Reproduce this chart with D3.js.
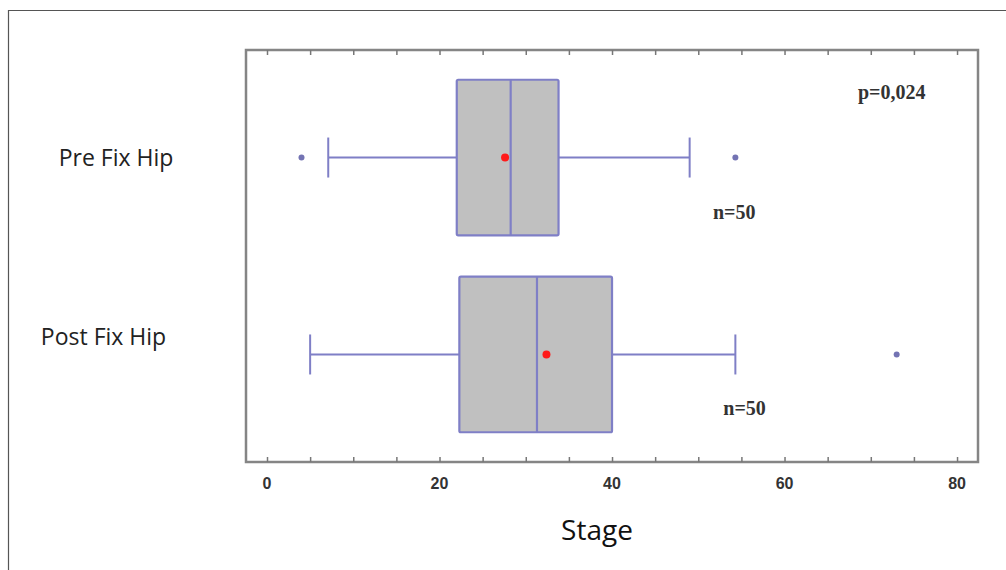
<!DOCTYPE html>
<html>
<head>
<meta charset="utf-8">
<script src="https://cdn.jsdelivr.net/npm/d3@7"></script>
<style>
  body { margin: 0; background: #fff; }
  svg { display: block; }
</style>
</head>
<body>
<div id="chart"></div>
<script>
// box plot values
const groups = ['Pre Fix Hip', 'Post Fix Hip'];
const whiskerLow = [7.1, 5.0];
const q1 = [22.0, 22.3];
const medians = [28.25, 31.3];
const q3 = [33.8, 40.0];
const whiskerHigh = [49.0, 54.3];
const means = [27.6, 32.4];
const outliers = [[4.0, 54.3], [73.0]];
const nLabels = ['n=50', 'n=50'];
const nLabelX = [51.7, 52.9];
const xTickLabels = [0, 20, 40, 60, 80];
const xMinorTicks = d3.range(0, 81, 5);
const pValue = 'p=0,024';

const W = 1006, H = 570;
const plot = { left: 246, right: 978, top: 50, bottom: 462 };
const boxColor = '#7f7fc6';

const svg = d3.select('#chart').append('svg')
  .attr('width', W).attr('height', H);

// outer page frame
svg.append('path')
  .attr('d', `M8.5,${H} V10.5 H${W}`)
  .attr('fill', 'none').attr('stroke', '#555').attr('stroke-width', 1.2);

const x = d3.scaleLinear()
  .domain([-2.435, 82.43])
  .range([plot.left, plot.right]);

const y = d3.scalePoint()
  .domain(groups)
  .range([plot.top, plot.bottom])
  .padding(0.546);

const boxH = y.step() * 0.79;
const capH = 40;

// plot frame
svg.append('rect')
  .attr('x', plot.left).attr('y', plot.top)
  .attr('width', plot.right - plot.left).attr('height', plot.bottom - plot.top)
  .attr('fill', 'none').attr('stroke', '#858585').attr('stroke-width', 2.5);

// ticks pointing inward, bottom and top
svg.append('g')
  .attr('transform', `translate(0,${plot.bottom})`)
  .call(d3.axisTop(x).tickValues(xMinorTicks).tickSize(5).tickFormat(''))
  .call(g => g.select('.domain').remove())
  .call(g => g.selectAll('line').attr('stroke', '#777').attr('stroke-width', 1.5));

svg.append('g')
  .attr('transform', `translate(0,${plot.top})`)
  .call(d3.axisBottom(x).tickValues(xMinorTicks).tickSize(5).tickFormat(''))
  .call(g => g.select('.domain').remove())
  .call(g => g.selectAll('line').attr('stroke', '#777').attr('stroke-width', 1.5));

svg.append('g')
  .selectAll('text')
  .data(xTickLabels)
  .enter().append('text')
  .attr('x', d => x(d))
  .attr('y', 489)
  .attr('text-anchor', 'middle')
  .style('font-family', 'Liberation Sans, Arial, sans-serif')
  .style('font-weight', 'bold')
  .style('font-size', '16px')
  .style('fill', '#333')
  .text(d => d);

svg.append('text')
  .attr('x', 597).attr('y', 540)
  .attr('text-anchor', 'middle')
  .style('font-family', 'Open Sans, sans-serif')
  .style('font-size', '28px')
  .style('fill', '#111')
  .text('Stage');

// category labels (they sit a little off the box centres in the original)
const labelPos = [{ cx: 116, dy: 8 }, { cx: 103.5, dy: -9 }];
svg.append('g')
  .selectAll('text')
  .data(groups)
  .enter().append('text')
  .attr('x', (d, i) => labelPos[i].cx)
  .attr('y', (d, i) => y(d) + labelPos[i].dy)
  .attr('text-anchor', 'middle')
  .style('font-family', 'Open Sans, sans-serif')
  .style('font-size', '23px')
  .style('fill', '#222')
  .text(d => d);

const boxes = svg.append('g')
  .selectAll('g')
  .data(groups)
  .enter().append('g');

// whiskers
boxes.append('line')
  .attr('x1', (d, i) => x(whiskerLow[i])).attr('x2', (d, i) => x(q1[i]))
  .attr('y1', d => y(d)).attr('y2', d => y(d))
  .attr('stroke', boxColor).attr('stroke-width', 2);
boxes.append('line')
  .attr('x1', (d, i) => x(q3[i])).attr('x2', (d, i) => x(whiskerHigh[i]))
  .attr('y1', d => y(d)).attr('y2', d => y(d))
  .attr('stroke', boxColor).attr('stroke-width', 2);
boxes.selectAll('.cap')
  .data((d, i) => [whiskerLow[i], whiskerHigh[i]].map(v => ({ g: d, v })))
  .enter().append('line')
  .attr('class', 'cap')
  .attr('x1', d => x(d.v)).attr('x2', d => x(d.v))
  .attr('y1', d => y(d.g) - capH / 2).attr('y2', d => y(d.g) + capH / 2)
  .attr('stroke', boxColor).attr('stroke-width', 2);

// box
boxes.append('rect')
  .attr('x', (d, i) => x(q1[i]))
  .attr('y', d => y(d) - boxH / 2)
  .attr('width', (d, i) => x(q3[i]) - x(q1[i]))
  .attr('height', boxH)
  .attr('rx', 1.5)
  .attr('fill', '#c0c0c0')
  .attr('stroke', boxColor).attr('stroke-width', 2.2);

// median
boxes.append('line')
  .attr('x1', (d, i) => x(medians[i])).attr('x2', (d, i) => x(medians[i]))
  .attr('y1', d => y(d) - boxH / 2).attr('y2', d => y(d) + boxH / 2)
  .attr('stroke', boxColor).attr('stroke-width', 2.2);

// mean
boxes.append('circle')
  .attr('cx', (d, i) => x(means[i]))
  .attr('cy', d => y(d))
  .attr('r', 4)
  .attr('fill', '#ff1a1a');

// outliers
boxes.selectAll('.out')
  .data((d, i) => outliers[i].map(v => ({ g: d, v })))
  .enter().append('circle')
  .attr('class', 'out')
  .attr('cx', d => x(d.v))
  .attr('cy', d => y(d.g))
  .attr('r', 3)
  .attr('fill', '#7373b3');

// n labels
boxes.append('text')
  .attr('x', (d, i) => x(nLabelX[i]))
  .attr('y', d => y(d) + 61)
  .style('font-family', 'Liberation Serif, Times New Roman, serif')
  .style('font-weight', 'bold')
  .style('font-size', '20px')
  .style('fill', '#333')
  .text((d, i) => nLabels[i]);

svg.append('text')
  .attr('x', 858).attr('y', 99)
  .style('font-family', 'Liberation Serif, Times New Roman, serif')
  .style('font-weight', 'bold')
  .style('font-size', '20px')
  .style('fill', '#333')
  .text(pValue);
</script>
</body>
</html>
